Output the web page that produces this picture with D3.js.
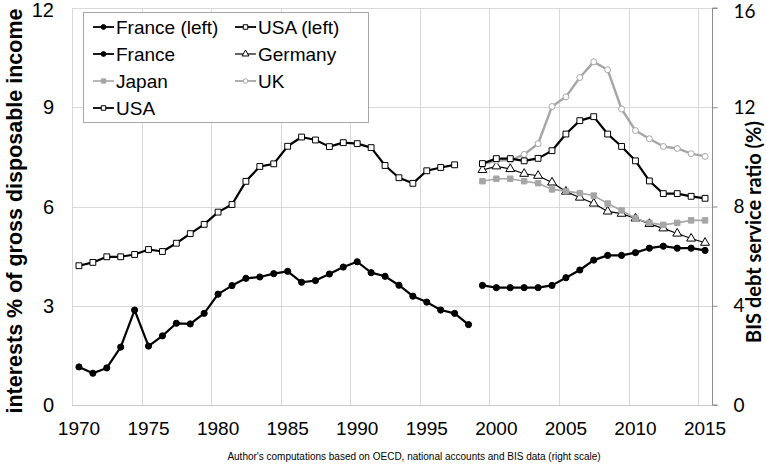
<!DOCTYPE html>
<html>
<head>
<meta charset="utf-8">
<script src="https://cdn.jsdelivr.net/npm/d3@7"></script>
<style>
  body { margin: 0; background: #fff; }
  svg { display: block; }
</style>
</head>
<body>
<div id="container"></div>
<script>
/* CONSTANTS AND GLOBALS */
const width = 766,
  height = 468;
const plot = { left: 72, right: 712, top: 8, bottom: 405 };

/* DATA */
const years = [1970, 1971, 1972, 1973, 1974, 1975, 1976, 1977, 1978, 1979,
  1980, 1981, 1982, 1983, 1984, 1985, 1986, 1987, 1988, 1989,
  1990, 1991, 1992, 1993, 1994, 1995, 1996, 1997, 1998, 1999,
  2000, 2001, 2002, 2003, 2004, 2005, 2006, 2007, 2008, 2009,
  2010, 2011, 2012, 2013, 2014, 2015];
const yearLabels = [1970, 1975, 1980, 1985, 1990, 1995, 2000, 2005, 2010, 2015];
const leftTicks = [0, 3, 6, 9, 12];
const rightTicks = [0, 4, 8, 12, 16];

// national accounts, left scale
const yearsFranceLeft = years.slice(0, 29);   // 1970-1998
const yearsUsaLeft = years.slice(0, 28);      // 1970-1997
const franceLeft = [1.15, 0.96, 1.12, 1.75, 2.87, 1.78, 2.09, 2.47, 2.45, 2.77,
  3.35, 3.61, 3.83, 3.87, 3.97, 4.04, 3.71, 3.76, 3.96, 4.17,
  4.33, 4.00, 3.89, 3.62, 3.29, 3.11, 2.87, 2.77, 2.43];
const usaLeft = [4.21, 4.31, 4.48, 4.48, 4.55, 4.70, 4.64, 4.89, 5.18, 5.46,
  5.83, 6.06, 6.76, 7.21, 7.29, 7.82, 8.10, 8.01, 7.81, 7.93,
  7.90, 7.78, 7.24, 6.87, 6.70, 7.08, 7.18, 7.26];

// BIS debt service ratio, right scale
const yearsBis = years.slice(29);             // 1999-2015
const franceBis = [4.82, 4.73, 4.73, 4.73, 4.73, 4.82, 5.13, 5.44, 5.84, 6.03, 6.03, 6.14, 6.32, 6.40, 6.32, 6.32, 6.23];
const germanyBis = [9.47, 9.62, 9.51, 9.32, 9.24, 8.97, 8.60, 8.36, 8.12, 7.80, 7.71, 7.52, 7.30, 7.12, 6.91, 6.71, 6.54];
const japanBis = [9.02, 9.12, 9.12, 9.02, 8.94, 8.69, 8.62, 8.54, 8.44, 8.12, 7.84, 7.52, 7.34, 7.26, 7.34, 7.44, 7.44];
const ukBis = [9.70, 9.85, 9.86, 10.10, 10.53, 12.03, 12.42, 13.20, 13.83, 13.51, 11.93, 11.06, 10.73, 10.42, 10.34, 10.13, 10.02];
const usaBis = [9.73, 9.93, 9.93, 9.84, 9.94, 10.25, 10.92, 11.46, 11.62, 10.92, 10.42, 9.84, 9.03, 8.52, 8.52, 8.41, 8.33];

/* SERIES + STYLES */
const styles = {
  france: { stroke: "#000", lw: 2.2, symbol: d3.symbolCircle, size: 30, fill: "#000", mstroke: "#000" },
  usa: { stroke: "#000", lw: 2.2, symbol: d3.symbolSquare, size: 34, fill: "#fff", mstroke: "#000" },
  germany: { stroke: "#000", lw: 1.2, symbol: d3.symbolTriangle, size: 34, fill: "#fff", mstroke: "#000" },
  japan: { stroke: "#a6a6a6", lw: 1.6, symbol: d3.symbolSquare, size: 30, fill: "#a6a6a6", mstroke: "#a6a6a6" },
  uk: { stroke: "#a6a6a6", lw: 2.4, symbol: d3.symbolCircle, size: 28, fill: "#fff", mstroke: "#a6a6a6" }
};

const series = [
  { name: "France (left)", years: yearsFranceLeft, values: franceLeft, axis: "left", style: styles.france },
  { name: "USA (left)", years: yearsUsaLeft, values: usaLeft, axis: "left", style: styles.usa },
  { name: "France", years: yearsBis, values: franceBis, axis: "right", style: styles.france },
  { name: "Germany", years: yearsBis, values: germanyBis, axis: "right", style: styles.germany },
  { name: "Japan", years: yearsBis, values: japanBis, axis: "right", style: styles.japan },
  { name: "UK", years: yearsBis, values: ukBis, axis: "right", style: styles.uk },
  { name: "USA", years: yearsBis, values: usaBis, axis: "right", style: styles.usa }
];

/* SCALES */
const xScale = d3.scaleBand()
  .domain(years)
  .range([plot.left, plot.right])
  .padding(0);
const xc = yr => xScale(yr) + xScale.bandwidth() / 2;

const yLeft = d3.scaleLinear().domain([0, 12]).range([plot.bottom, plot.top]);
const yRight = d3.scaleLinear().domain([0, 16]).range([plot.bottom, plot.top]);

const arial = "'Liberation Sans', Arial, Helvetica, sans-serif";
const calibri = "Lato, Carlito, Calibri, sans-serif";

/* SVG */
const svg = d3.select("#container")
  .append("svg")
  .attr("width", width)
  .attr("height", height)
  .style("background", "#fff");

// gridlines
svg.append("g")
  .selectAll("line")
  .data(leftTicks.filter(d => d > 0))
  .join("line")
  .attr("x1", plot.left).attr("x2", plot.right)
  .attr("y1", d => Math.round(yLeft(d)) + 0.5).attr("y2", d => Math.round(yLeft(d)) + 0.5)
  .attr("stroke", "#d9d9d9");

svg.append("g")
  .selectAll("line")
  .data(yearLabels)
  .join("line")
  .attr("x1", d => Math.round(xScale(d)) + 0.5).attr("x2", d => Math.round(xScale(d)) + 0.5)
  .attr("y1", plot.top).attr("y2", plot.bottom)
  .attr("stroke", "#d9d9d9");

// bottom axis line
svg.append("line")
  .attr("x1", plot.left).attr("x2", plot.right)
  .attr("y1", Math.round(plot.bottom) + 0.5).attr("y2", Math.round(plot.bottom) + 0.5)
  .attr("stroke", "#c8c8c8");

// x labels (category centres)
svg.append("g")
  .selectAll("text")
  .data(yearLabels)
  .join("text")
  .attr("x", d => xc(d))
  .attr("y", 435)
  .attr("text-anchor", "middle")
  .attr("font-family", arial)
  .attr("font-size", 19)
  .text(d => d);

// left axis labels (top one nudged so it stays inside the picture)
svg.append("g")
  .selectAll("text")
  .data(leftTicks)
  .join("text")
  .attr("x", 54)
  .attr("y", d => Math.max(yLeft(d), 10))
  .attr("dy", "0.36em")
  .attr("text-anchor", "end")
  .attr("font-family", arial)
  .attr("font-size", 20)
  .text(d => d);

// right axis (line + outward ticks)
const rightAxis = d3.axisRight(yRight)
  .tickValues(rightTicks)
  .tickSize(5)
  .tickPadding(16)
  .tickFormat(d3.format("d"));

const gR = svg.append("g")
  .attr("transform", `translate(${plot.right + 0.5},0)`)
  .call(rightAxis);
gR.select(".domain").attr("stroke", "#8c8c8c").attr("d", `M5,${plot.top}H0V${plot.bottom}H5`);
gR.selectAll(".tick line").attr("stroke", "#8c8c8c");
gR.selectAll(".tick text")
  .attr("font-family", calibri)
  .attr("font-size", 19)
  .attr("fill", "#000")
  .attr("dy", d => d === 16 ? "0.5em" : "0.32em");

// axis titles
svg.append("text")
  .attr("transform", `translate(22,211) rotate(-90)`)
  .attr("text-anchor", "middle")
  .attr("font-family", arial)
  .attr("font-weight", "bold")
  .attr("font-size", 21.5)
  .text("interests % of gross disposable income");

svg.append("text")
  .attr("transform", `translate(761,232) rotate(-90)`)
  .attr("text-anchor", "middle")
  .attr("font-family", calibri)
  .attr("font-weight", "bold")
  .attr("font-size", 20)
  .text("BIS debt service ratio (%)");

// source note
svg.append("text")
  .attr("x", 414)
  .attr("y", 460)
  .attr("text-anchor", "middle")
  .attr("font-family", "'Liberation Sans Narrow', 'Arial Narrow', " + arial)
  .attr("font-size", 10)
  .text("Author's computations based on OECD, national accounts and BIS data (right scale)");

/* LINES + MARKERS */
series.forEach(s => {
  const y = s.axis === "left" ? yLeft : yRight;
  const pts = s.years.map((yr, i) => ({ yr, v: s.values[i] }));
  const line = d3.line().x(d => xc(d.yr)).y(d => y(d.v));

  const g = svg.append("g").attr("class", "series");
  g.append("path")
    .attr("d", line(pts))
    .attr("fill", "none")
    .attr("stroke", s.style.stroke)
    .attr("stroke-width", s.style.lw)
    .attr("stroke-linejoin", "round");

  g.selectAll("path.mk")
    .data(pts)
    .join("path")
    .attr("class", "mk")
    .attr("transform", d => `translate(${xc(d.yr)},${y(d.v)})`)
    .attr("d", d3.symbol().type(s.style.symbol).size(s.style.size))
    .attr("fill", s.style.fill)
    .attr("stroke", s.style.mstroke)
    .attr("stroke-width", 1);
});

/* LEGEND */
const legend = svg.append("g");
legend.append("rect")
  .attr("x", 83.5).attr("y", 12.5)
  .attr("width", 285).attr("height", 110)
  .attr("fill", "#fff")
  .attr("stroke", "#a6a6a6");

const items = legend.selectAll("g.item")
  .data(series)
  .join("g")
  .attr("class", "item")
  .attr("transform", (d, i) => `translate(${93 + (i % 2) * 142},${27 + Math.floor(i / 2) * 27})`);

items.append("line")
  .attr("x1", 0).attr("x2", 21)
  .attr("stroke", d => d.style.stroke)
  .attr("stroke-width", d => Math.min(d.style.lw, 1.8));

items.append("path")
  .attr("transform", "translate(10.5,0)")
  .attr("d", d => d3.symbol().type(d.style.symbol).size(d.style.size * 0.6)())
  .attr("fill", d => d.style.fill)
  .attr("stroke", d => d.style.mstroke);

items.append("text")
  .attr("x", 23)
  .attr("dy", "0.36em")
  .attr("font-family", arial)
  .attr("font-size", 19)
  .text(d => d.name);
</script>
</body>
</html>
